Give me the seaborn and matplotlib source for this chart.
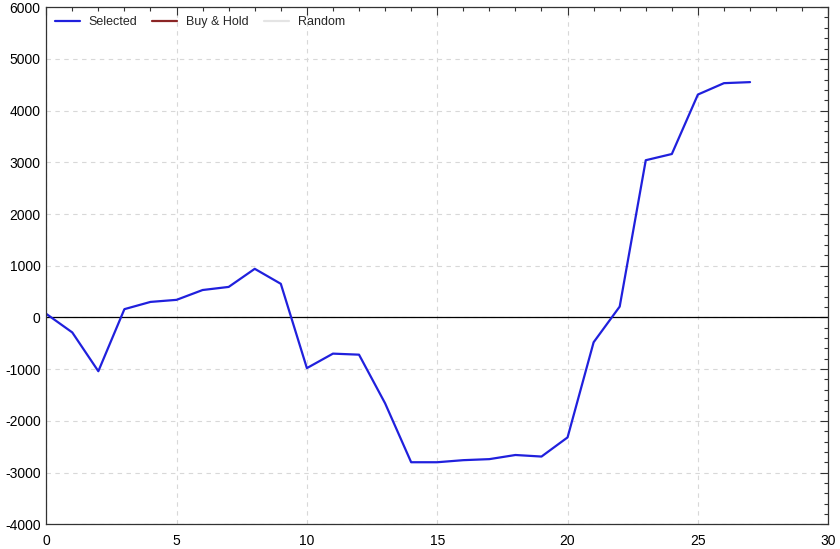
import numpy as np
import matplotlib
matplotlib.use('Agg')
import matplotlib.pyplot as plt
import seaborn as sns
from matplotlib.ticker import MultipleLocator

# данные
trades = list(range(28))
selected = [70, -290, -1040, 160, 300, 340, 530, 590, 940, 650,
            -980, -700, -720, -1660, -2800, -2800, -2760, -2740, -2660, -2690,
            -2320, -480, 210, 3040, 3160, 4310, 4530, 4550]
x_ticks = [0, 5, 10, 15, 20, 25, 30]
y_ticks = [-4000, -3000, -2000, -1000, 0, 1000, 2000, 3000, 4000, 5000, 6000]

sns.set_style('white')
plt.rcParams['font.family'] = ['Liberation Sans', 'DejaVu Sans']
plt.rcParams['axes.unicode_minus'] = False

fig = plt.figure(figsize=(8.4, 5.49), dpi=100)
ax = fig.add_axes([0.055, 0.045, 0.931, 0.942])

sns.lineplot(x=trades, y=selected, ax=ax, color='#2020dd', linewidth=1.6, label='Selected')
ax.plot([], [], color='#8b2525', linewidth=1.6, label='Buy & Hold')
ax.plot([], [], color='#e4e4e4', linewidth=1.6, label='Random')
ax.axhline(0, color='black', linewidth=0.9, zorder=1)

ax.set_xlim(0, 30)
ax.set_ylim(-4000, 6000)
ax.set_xticks(x_ticks)
ax.set_yticks(y_ticks)
ax.xaxis.set_minor_locator(MultipleLocator(1))
ax.yaxis.set_minor_locator(MultipleLocator(200))
ax.tick_params(which='both', direction='in', top=True, right=True,
               labelsize=10, colors='#333333', labelcolor='black')
ax.tick_params(which='major', length=6, width=0.8)
ax.tick_params(which='minor', length=3, width=0.8)
ax.tick_params(axis='x', pad=7)
ax.tick_params(axis='y', pad=4)
for s in ax.spines.values():
    s.set_color('#333333')
    s.set_linewidth(0.9)
ax.grid(True, which='major', linestyle=(0, (4, 4)), color='#d8d8d8', linewidth=0.8)
ax.set_axisbelow(True)

ax.legend(loc='upper left', ncol=3, frameon=False, fontsize=9,
          handlelength=2.0, handletextpad=0.7, columnspacing=1.2,
          borderaxespad=0.3, borderpad=0.4)

fig.savefig('out.png', dpi=100)
